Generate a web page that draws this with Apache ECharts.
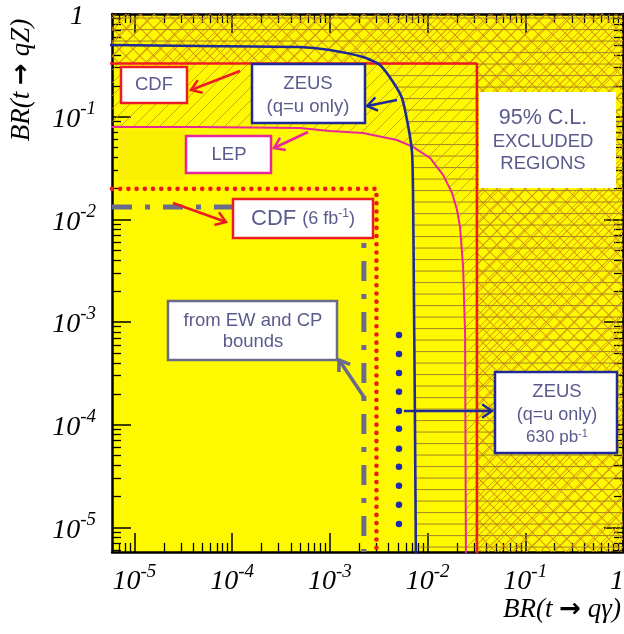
<!DOCTYPE html>
<html><head><meta charset="utf-8">
<script src="https://cdn.jsdelivr.net/npm/echarts@6/dist/echarts.min.js"></script>
<style>html,body{margin:0;padding:0;background:#fff}#c{width:624px;height:634px}</style>
</head><body><div id="c"></div>
<script>
// ---------------- data (branching ratios) ----------------
const xRange = [5.9e-6, 1];      // BR(t -> q gamma) axis extent
const yRange = [5.75e-6, 1];     // BR(t -> qZ) axis extent
const xTickExps = [-5, -4, -3, -2, -1, 0];
const yTickExps = [-5, -4, -3, -2, -1, 0];

// CDF limits (red rectangle): [BR(q gamma), BR(qZ)]
const cdfLimit = [0.032, 0.33];
// CDF 6 fb^-1 projection (red dotted)
const cdf6Limit = [0.0030, 0.0198];
// EW and CP bounds (grey dash-dot)
const ewcpLimit = [0.00223, 0.0132];

// ZEUS (q=u only) curve
const zeusX = [5e-6, 4.7e-5, 4.9e-4, 1.0e-3, 2.18e-3, 3.26e-3, 4.43e-3, 5.47e-3, 6.3e-3, 6.93e-3, 7.1e-3, 7.26e-3, 7.43e-3, 7.6e-3];
const zeusY = [0.50, 0.488, 0.477, 0.446, 0.381, 0.319, 0.218, 0.152, 0.083, 0.0453, 0.0185, 1.64e-3, 1.11e-4, 5e-6];

// LEP curve
const lepX = [5e-6, 4.69e-5, 4.94e-4, 1.0e-3, 2.18e-3, 4.86e-3, 7.1e-3, 1.06e-2, 1.44e-2, 1.78e-2, 2.0e-2, 2.15e-2, 2.31e-2, 2.42e-2, 2.47e-2];
const lepY = [0.0794, 0.0794, 0.0776, 0.0726, 0.0694, 0.0593, 0.0507, 0.0396, 0.0271, 0.0181, 0.0124, 8.4e-3, 3.44e-3, 7.8e-4, 5e-6];

// ZEUS 630 pb^-1 (blue dots)
const zeusDotX = 5.1e-3;
const zeusDotY = [7.49e-4, 4.89e-4, 3.19e-4, 2.09e-4, 1.36e-4, 9.1e-5, 5.81e-5, 3.88e-5, 2.54e-5, 1.66e-5, 1.08e-5];

// ---------------- helpers ----------------
const L = Math.log10;
const X0 = L(xRange[0]), X1 = L(xRange[1]), Y0 = L(yRange[0]), Y1 = L(yRange[1]);
const pairs = (xs, ys) => xs.map((x, i) => [L(x), L(ys[i])]);

function makePattern(w, h, draw) {
  const c = document.createElement('canvas'); c.width = w; c.height = h;
  const g = c.getContext('2d'); draw(g, w, h);
  return { image: c, repeat: 'repeat' };
}
const crossPat = makePattern(14, 14, (g, s) => {
  g.strokeStyle = 'rgba(212,140,10,0.8)'; g.lineWidth = 1.1;
  for (const d of [-s, 0, s]) {
    g.beginPath(); g.moveTo(d, 0); g.lineTo(d + s, s); g.stroke();
    g.beginPath(); g.moveTo(d, s); g.lineTo(d + s, 0); g.stroke();
  }
});
const slashPat = makePattern(13, 13, (g, s) => {
  g.strokeStyle = 'rgba(200,145,30,0.8)'; g.lineWidth = 1;
  for (const d of [-s, 0, s]) { g.beginPath(); g.moveTo(d, s); g.lineTo(d + s, 0); g.stroke(); }
});
const horizPat = makePattern(10, 23, (g) => {
  g.fillStyle = 'rgba(150,118,40,0.8)';
  g.fillRect(0, 6, 10, 1.1); g.fillRect(0, 17.5, 10, 1.1);
});

function regionSeries(pointsFn, fill) {
  return {
    type: 'custom', coordinateSystem: 'cartesian2d', clip: true, silent: true, z: 2,
    data: [0],
    renderItem: (params, api) => ({
      type: 'polygon',
      shape: { points: pointsFn().map(p => api.coord(p)) },
      style: { fill: fill, stroke: null }
    })
  };
}

const minorVals = (lo, hi) => {
  const out = [];
  for (let n = -7; n <= 0; n++) for (let k = 2; k <= 9; k++) {
    const v = n + L(k); if (v > lo && v < hi) out.push(v);
  }
  return out;
};
const xMinor = minorVals(X0, X1), yMinor = minorVals(Y0, Y1);

const serif = 'Liberation Serif';
const labelRich = {
  b: { fontFamily: serif, fontStyle: 'italic', fontSize: 28, color: '#000', lineHeight: 34, verticalAlign: 'bottom' },
  s: { fontFamily: serif, fontStyle: 'italic', fontSize: 19, color: '#000', lineHeight: 20, verticalAlign: 'top' },
  n: { fontFamily: serif, fontStyle: 'italic', fontSize: 28, color: '#000', lineHeight: 34, verticalAlign: 'bottom', padding: [0, 12, 0, 0] }
};
const fmt = v => v === 0 ? '{n|1}' : '{b|10}{s|' + v + '}';

function axisPair(dim, pos, withLabels, majorVals, minorV, lo, hi) {
  const base = {
    type: 'value', position: pos, min: lo, max: hi, splitLine: { show: false },
    gridIndex: 0
  };
  const major = Object.assign({}, base, {
    axisLine: { show: true, onZero: false, lineStyle: { color: '#000', width: 2.5 } },
    axisTick: { show: true, inside: true, length: 19, customValues: majorVals, lineStyle: { color: '#000', width: 1.5 } },
    axisLabel: withLabels ? { show: true, customValues: majorVals, formatter: fmt, rich: labelRich, margin: dim === 'x' ? 10 : 16, hideOverlap: false } : { show: false }
  });
  const minor = Object.assign({}, base, {
    axisLine: { show: false, onZero: false },
    axisTick: { show: true, inside: true, length: 9, customValues: minorV, lineStyle: { color: '#000', width: 1.3 } },
    axisLabel: { show: false }
  });
  return [major, minor];
}

// ---------------- annotations (graphic) ----------------
const textCol = '#5a5a8c';
const sans = 'Liberation Sans';
function box(x, y, w, h, stroke) {
  return { type: 'rect', z: 100, shape: { x, y, width: w, height: h },
    style: { fill: '#fff', stroke: stroke || null, lineWidth: 2.5 } };
}
function txt(x, y, text, size, extra) {
  return Object.assign({ type: 'text', z: 101, x, y,
    style: { text, fill: textCol, font: size + 'px ' + sans, textAlign: 'center', textVerticalAlign: 'middle', verticalAlign: 'middle' } }, extra || {});
}
function richTxt(x, y, text, rich) {
  return { type: 'text', z: 101, x, y,
    style: { text, rich, textAlign: 'center', textVerticalAlign: 'middle', verticalAlign: 'middle' } };
}
function arrow(x1, y1, x2, y2, color, w) {
  const a = Math.atan2(y2 - y1, x2 - x1), len = 12, sp = 0.6;
  const p1 = [x2 - len * Math.cos(a - sp), y2 - len * Math.sin(a - sp)];
  const p2 = [x2 - len * Math.cos(a + sp), y2 - len * Math.sin(a + sp)];
  return [
    { type: 'line', z: 100, shape: { x1, y1, x2, y2 }, style: { stroke: color, lineWidth: w } },
    { type: 'polyline', z: 100, shape: { points: [p1, [x2, y2], p2] }, style: { stroke: color, lineWidth: w, fill: null } }
  ];
}
const red = '#ec1c24', blue = '#1f2a96', mag = '#e8279b', grey = '#6a6a8a';
const supRich = (big, small, sup) => ({
  a: { fontFamily: sans, fontSize: big, fill: textCol, color: textCol },
  c: { fontFamily: sans, fontSize: small, fill: textCol, color: textCol },
  u: { fontFamily: sans, fontSize: sup, fill: textCol, color: textCol, verticalAlign: 'top', lineHeight: 14 }
});
const titleRich = {
  t: { fontFamily: serif, fontStyle: 'italic', fontSize: 27, fill: '#000', color: '#000' },
  a: { fontFamily: 'DejaVu Sans', fontWeight: 'bold', fontSize: 26, fill: '#000', color: '#000' }
};

const graphics = [
  { type: 'rect', z: 1, shape: { x: 118, y: 130, width: 67, height: 50 }, style: { fill: '#faef00' } },
  box(121, 67, 66, 36, red), txt(154, 85, 'CDF', 18.5),
  box(252, 64, 113, 59, blue), txt(308, 84, 'ZEUS', 18.5), txt(308, 107, '(q=u only)', 18.5),
  box(186, 136, 85, 37, mag), txt(229, 155, 'LEP', 18.5),
  box(479, 92, 137, 96, null), txt(543, 118, '95% C.L.', 21.5), txt(543, 142, 'EXCLUDED', 18.5), txt(543, 164, 'REGIONS', 18.5),
  box(233, 199, 140, 39, red), richTxt(303, 219, '{a|CDF }{c|(6 fb}{u|-1}{c|)}', supRich(22, 18, 12)),
  box(168, 301, 169, 59, grey), txt(253, 321, 'from EW and CP', 18.5), txt(253, 342, 'bounds', 18.5),
  box(495, 372, 122, 81, blue), txt(557, 392, 'ZEUS', 18.5), txt(557, 415, '(q=u only)', 18), richTxt(557, 437, '{c|630 pb}{u|-1}', supRich(16, 17, 11)),
  ...arrow(240, 71, 191, 90, red, 2.5),
  ...arrow(397, 100, 367, 106, blue, 2.5),
  ...arrow(308, 132, 274, 148, mag, 2.5),
  ...arrow(173, 203, 226, 222, red, 2.5),
  ...arrow(364, 397, 339, 360, grey, 3.5),
  ...arrow(404, 411, 492, 411, blue, 2.5),
  { type: 'text', z: 101, x: 22, y: 80, rotation: Math.PI / 2,
    style: { text: '{t|BR(t }{a|→}{t| qZ)}', textAlign: 'center', textVerticalAlign: 'middle', verticalAlign: 'middle', rich: titleRich } },
  { type: 'text', z: 101, x: 562, y: 610,
    style: { text: '{t|BR(t }{a|→}{t| qγ)}', textAlign: 'center', textVerticalAlign: 'middle', verticalAlign: 'middle', rich: titleRich } }
];

// ---------------- chart ----------------
const chart = echarts.init(document.getElementById('c'), null, { renderer: 'canvas' });
const [xb, xbm] = axisPair('x', 'bottom', true, xTickExps, xMinor, X0, X1);
const [xt, xtm] = axisPair('x', 'top', false, xTickExps, xMinor, X0, X1);
const [yl, ylm] = axisPair('y', 'left', true, yTickExps, yMinor, Y0, Y1);
const [yr, yrm] = axisPair('y', 'right', false, yTickExps, yMinor, Y0, Y1);

const zeusPts = pairs(zeusX, zeusY), lepPts = pairs(lepX, lepY);
const cdfPt = [L(cdfLimit[0]), L(cdfLimit[1])];
const cdf6Pt = [L(cdf6Limit[0]), L(cdf6Limit[1])];
const ewPt = [L(ewcpLimit[0]), L(ewcpLimit[1])];

chart.setOption({
  animation: false,
  backgroundColor: '#fff',
  grid: { left: 112, top: 14, right: 1, bottom: 82, show: true, backgroundColor: '#fff900', borderWidth: 0, containLabel: false, outerBoundsMode: 'none' },
  xAxis: [xb, xbm, xt, xtm],
  yAxis: [yl, ylm, yr, yrm],
  graphic: graphics,
  series: [
    regionSeries(() => [[X0, Y1], [X1, Y1], [X1, Y0], [cdfPt[0], Y0], cdfPt, [X0, cdfPt[1]]], crossPat),
    regionSeries(() => zeusPts.concat([[X1, Y0], [X1, Y1], [X0, Y1]]), horizPat),
    regionSeries(() => lepPts.concat([[X1, Y0], [X1, Y1], [X0, Y1]]), slashPat),
    { type: 'line', z: 5, silent: true, showSymbol: false, data: [[X0 - 0.1, cdfPt[1]], cdfPt, [cdfPt[0], Y0 - 0.1]],
      lineStyle: { color: red, width: 2.6 } },
    { type: 'line', z: 5, silent: true, showSymbol: false, data: lepPts, lineStyle: { color: mag, width: 2 } },
    { type: 'line', z: 6, silent: true, showSymbol: false, data: zeusPts, smooth: 0.2, lineStyle: { color: blue, width: 2.6 } },
    { type: 'line', z: 6, silent: true, showSymbol: false, data: [[X0, cdf6Pt[1]], cdf6Pt, [cdf6Pt[0], Y0]],
      lineStyle: { color: '#ee1a1a', width: 4.6, type: [0.001, 8.2], cap: 'round' } },
    { type: 'line', z: 6, silent: true, showSymbol: false, data: [[X0, ewPt[1]], ewPt, [ewPt[0], Y0]],
      lineStyle: { color: grey, width: 5, type: [20, 13, 5, 13] } },
    { type: 'scatter', z: 6, silent: true, symbolSize: 6.5, itemStyle: { color: '#1b2ab0', opacity: 1 },
      data: zeusDotY.map(y => [L(zeusDotX), L(y)]) }
  ]
});
</script></body></html>
